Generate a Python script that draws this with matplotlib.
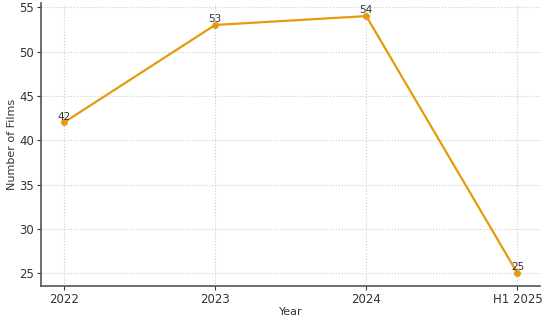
import matplotlib.pyplot as plt

years = ["2022", "2023", "2024", "H1 2025"]
films = [42, 53, 54, 25]

fig, ax = plt.subplots(figsize=(5.5, 3.24), dpi=100)
fig.subplots_adjust(left=0.075, right=0.982, bottom=0.117, top=0.99)

x = list(range(len(years)))
ax.plot(x, films, color="#E69A0C", marker="o", markersize=4, linewidth=1.6)
for xi, v in zip(x, films):
    ax.annotate(str(v), (xi, v), textcoords="offset points", xytext=(0, 2),
                ha="center", fontsize=7.5, color="#333333")

ax.set_xticks(x)
ax.set_xticklabels(years)
ax.set_xlabel("Year", fontsize=8, labelpad=1, color="#333333")
ax.set_ylabel("Number of Films", fontsize=8, labelpad=2, color="#333333")
ax.tick_params(labelsize=8.5, colors="#333333", length=3, pad=2)
ax.grid(True, linestyle=":", color="#cccccc", linewidth=0.8)
for s in ["top", "right"]:
    ax.spines[s].set_visible(False)
for s in ["left", "bottom"]:
    ax.spines[s].set_color("#555555")
    ax.spines[s].set_linewidth(1.2)

fig.savefig("out.png")
